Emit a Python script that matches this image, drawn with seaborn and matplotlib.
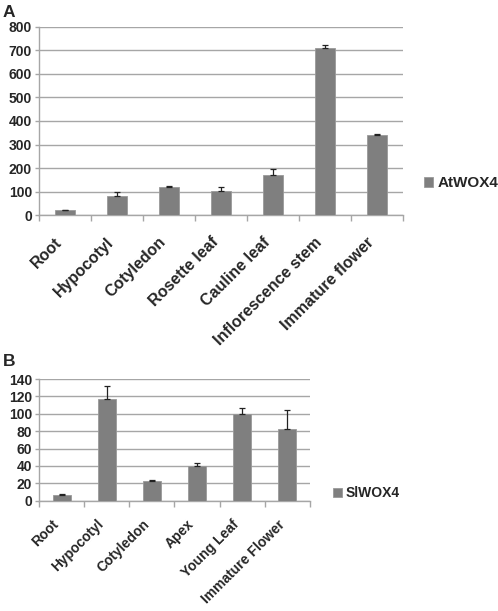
import numpy as np
import pandas as pd
import matplotlib
matplotlib.use("Agg")
import matplotlib.pyplot as plt
import seaborn as sns

# Panel A data (Arabidopsis)
tissues_a = ["Root", "Hypocotyl", "Cotyledon", "Rosette leaf", "Cauline leaf",
             "Inflorescence stem", "Immature flower"]
values_a = [21, 82, 120, 102, 170, 709, 340]
errors_a = [2, 17, 3, 17, 25, 16, 5]

# Panel B data (tomato)
tissues_b = ["Root", "Hypocotyl", "Cotyledon", "Apex", "Young Leaf", "Immature Flower"]
values_b = [6.5, 117, 23, 40, 100, 83]
errors_b = [1.2, 15, 1, 4, 7, 21]

sns.set_style("white")
plt.rcParams["font.family"] = ["Liberation Sans", "DejaVu Sans"]
plt.rcParams["font.weight"] = "bold"

BAR = "#7f7f7f"
GRID = "#a6a6a6"

fig = plt.figure(figsize=(4.98, 6.11), dpi=100)
ax_a = fig.add_axes([0.0783, 0.648, 0.731, 0.308])
ax_b = fig.add_axes([0.0783, 0.1805, 0.544, 0.199])


def draw_panel(ax, tissues, values, errors, name, ymax, step, leg_xy,
               xsize, xpad, legsize):
    df = pd.DataFrame({"tissue": tissues, "value": values, "gene": name})
    sns.barplot(data=df, x="tissue", y="value", hue="gene", palette=[BAR],
                width=0.4, edgecolor="#9a9a9a", linewidth=0.6, ax=ax, zorder=3)
    pos = np.arange(len(tissues))
    ax.errorbar(pos, values, yerr=[np.zeros(len(errors)), errors], fmt="none",
                ecolor="#222222", elinewidth=0.9, capsize=2.5, capthick=0.9, zorder=4)

    ax.set_ylim(0, ymax)
    ax.set_yticks(np.arange(0, ymax + 1, step))
    ax.set_xlim(-0.5, len(tissues) - 0.5)
    ax.yaxis.grid(True, color=GRID, linewidth=1.0, zorder=0)
    ax.set_axisbelow(True)
    for side in ["top", "right"]:
        ax.spines[side].set_visible(False)
    for side in ["left", "bottom"]:
        ax.spines[side].set_color(GRID)
        ax.spines[side].set_linewidth(1.0)

    ax.set_xlabel("")
    ax.set_ylabel("")
    ax.set_xticks(pos)
    ax.set_xticklabels(tissues, rotation=45, ha="right", va="top",
                       fontsize=xsize, fontweight="bold")
    ax.set_xticks(np.arange(-0.5, len(tissues), 1.0), minor=True)
    ax.tick_params(axis="x", which="major", length=0, pad=xpad)
    ax.tick_params(axis="x", which="minor", length=4, color=GRID, width=1.0,
                   direction="out", bottom=True)
    ax.tick_params(axis="y", length=3, color=GRID, width=1.0, left=True,
                   labelsize=10, pad=2)
    for lab in ax.get_yticklabels():
        lab.set_fontweight("bold")

    ax.legend(loc="center left", bbox_to_anchor=leg_xy, frameon=False,
              handlelength=0.6, handleheight=0.6, handletextpad=0.3,
              prop={"weight": "bold", "size": legsize})


draw_panel(ax_a, tissues_a, values_a, errors_a, "AtWOX4", 800, 100, (1.02, 0.17),
           11.5, 14, 11)
draw_panel(ax_b, tissues_b, values_b, errors_b, "SlWOX4", 140, 20, (1.04, 0.063),
           10, 12, 10)

fig.text(0.006, 0.972, "A", fontsize=12.5, fontweight="bold", va="baseline")
fig.text(0.006, 0.401, "B", fontsize=12.5, fontweight="bold", va="baseline")

fig.savefig("out.png", dpi=100)
